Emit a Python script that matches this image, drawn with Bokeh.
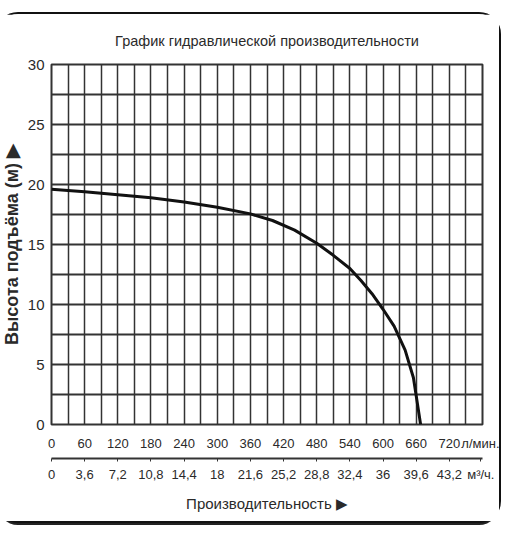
from bokeh.plotting import figure
from bokeh.models import LinearAxis, FixedTicker, Range1d
from bokeh.embed import file_html
from bokeh.resources import INLINE

# --- data ---
flow_lpm = [0, 60, 120, 180, 240, 300, 360, 400, 440, 480, 510, 540, 560, 580, 600, 620, 640, 655, 668]
head_m = [19.6, 19.4, 19.15, 18.9, 18.55, 18.1, 17.55, 17.0, 16.2, 15.1, 14.1, 13.0, 12.0, 10.9, 9.6, 8.2, 6.2, 3.9, 0.0]

lpm_ticks = [0, 60, 120, 180, 240, 300, 360, 420, 480, 540, 600, 660, 720]
lpm_labels = ["0", "60", "120", "180", "240", "300", "360", "420", "480", "540", "600", "660", "720"]
m3h_labels = ["0", "3,6", "7,2", "10,8", "14,4", "18", "21,6", "25,2", "28,8", "32,4", "36", "39,6", "43,2"]
head_ticks = [0, 5, 10, 15, 20, 25, 30]

title_text = "График гидравлической производительности"
ylabel_text = "Высота подъёма (м) ▶"
xlabel_text = "Производительность ▶"
unit_lpm = "л/мин."
unit_m3h = "м³/ч."
unit_pos = 777

FONT = "Liberation Sans"
TXT = "#2a2a2a"

p = figure(width=501, height=507, x_range=Range1d(0, 780), y_range=Range1d(0, 30),
           output_backend="svg", toolbar_location=None,
           min_border_left=47, min_border_right=17, min_border_top=50, min_border_bottom=97)
p.styles = {"outline": "2px solid #111", "outline-offset": "0px", "border-radius": "20px",
            "box-shadow": "0 3px 0 1px #222", "margin": "14px -10px 0 -2px"}
p.background_fill_color = "white"
p.border_fill_color = "white"
p.outline_line_color = "#333"
p.outline_line_width = 2

p.title.text = title_text
p.title.align = "center"
p.title.text_font = FONT
p.title.text_font_size = "14.5px"
p.title.text_font_style = "normal"
p.title.text_color = TXT
p.title.standoff = 32

# grid
p.xgrid.ticker = FixedTicker(ticks=list(range(0, 781, 30)))
p.ygrid.ticker = FixedTicker(ticks=[i * 2.5 for i in range(13)])
p.xgrid.grid_line_color = "#333"
p.xgrid.grid_line_width = 1.5
p.ygrid.grid_line_color = "#333"
p.ygrid.grid_line_width = 2

# y axis
ya = p.yaxis[0]
ya.ticker = FixedTicker(ticks=head_ticks)
ya.axis_line_color = None
ya.major_tick_line_color = None
ya.minor_tick_line_color = None
ya.major_label_text_font = FONT
ya.major_label_text_font_size = "15px"
ya.major_label_text_color = TXT
ya.major_label_standoff = 1
ya.axis_label = ylabel_text
ya.axis_label_text_font = FONT
ya.axis_label_text_font_size = "18px"
ya.axis_label_text_font_style = "bold"
ya.axis_label_text_color = TXT
ya.axis_label_standoff = 3

# x axis row 1 (l/min)
xa = p.xaxis[0]
xa.ticker = FixedTicker(ticks=lpm_ticks + [unit_pos])
xa.major_label_overrides = dict(zip(lpm_ticks + [unit_pos], lpm_labels + [unit_lpm]))
xa.axis_line_color = None
xa.major_tick_line_color = None
xa.minor_tick_line_color = None
xa.major_label_text_font = FONT
xa.major_label_text_font_size = "13px"
xa.major_label_text_color = TXT
xa.major_label_standoff = 5
xa.axis_label = " "
xa.axis_label_text_font_size = "1.5px"
xa.axis_label_standoff = 0

# x axis row 2 (m3/h)
xb = LinearAxis(ticker=FixedTicker(ticks=lpm_ticks + [unit_pos]),
                major_label_overrides=dict(zip(lpm_ticks + [unit_pos], m3h_labels + [unit_m3h])))
xb.axis_line_color = "#333"
xb.axis_line_width = 2
xb.major_tick_line_color = "#333"
xb.major_tick_in = 0
xb.major_tick_out = 3
xb.minor_tick_line_color = None
xb.major_label_text_font = FONT
xb.major_label_text_font_size = "13px"
xb.major_label_text_color = TXT
xb.major_label_standoff = 5
xb.axis_label = xlabel_text
xb.axis_label_text_font = FONT
xb.axis_label_text_font_size = "15px"
xb.axis_label_text_font_style = "normal"
xb.axis_label_text_color = TXT
xb.axis_label_standoff = 10
p.add_layout(xb, "below")

# curve
p.line(flow_lpm, head_m, line_color="#111", line_width=3)

open("out.html", "w").write(file_html(p, INLINE))
